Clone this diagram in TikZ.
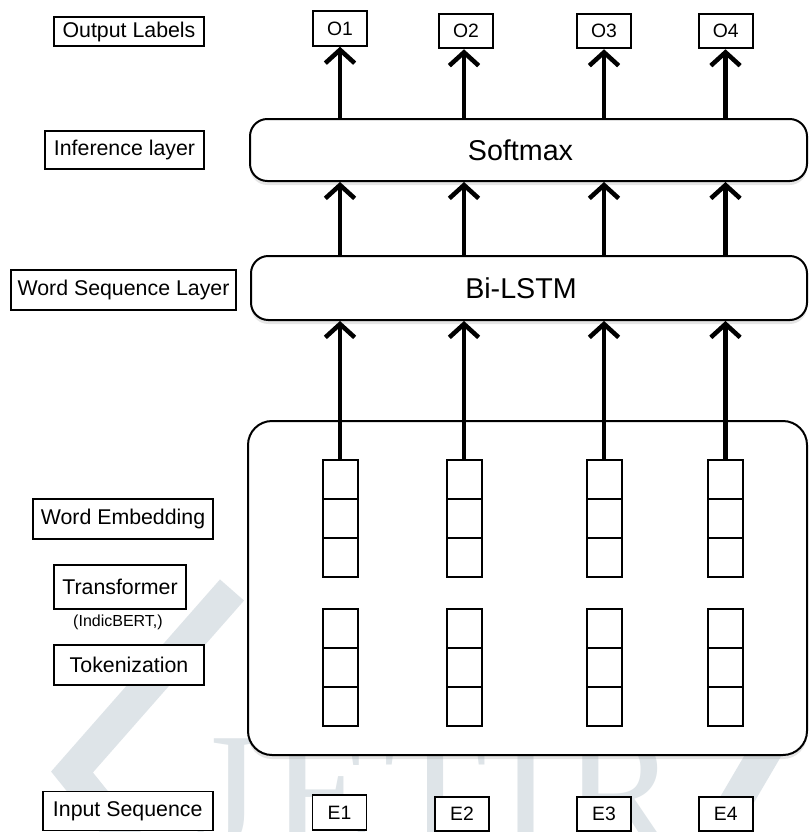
\documentclass[tikz,border=0pt]{standalone}
\usepackage{fontspec}
\setmainfont{Liberation Sans}
\newfontfamily\wmfont{Liberation Serif}
\usetikzlibrary{arrows.meta,shadows}

\definecolor{wmgray}{RGB}{222,228,232}

\tikzset{
  lbl/.style={draw, fill=white, line width=1.4pt, inner sep=0pt, font=\fontsize{16}{19}\selectfont},
  tok/.style={draw, fill=white, line width=1.4pt, inner sep=0pt, minimum width=40.5pt, minimum height=26pt, font=\fontsize{14.5}{17}\selectfont},
  layer/.style={draw, fill=white, line width=1.5pt, rounded corners=13pt, drop shadow={shadow xshift=0pt, shadow yshift=-3pt, opacity=0.2}, font=\fontsize{21.5}{25}\selectfont},
  cell/.style={draw, fill=white, line width=1.5pt, minimum width=26.25pt, minimum height=29.25pt, inner sep=0pt},
  arr/.style={line width=3.4pt, -{Straight Barb[length=10pt, width=22pt]}}
}

\begin{document}
\begin{tikzpicture}[x=0.75pt,y=-0.75pt]
\useasboundingbox (0,0) rectangle (808,832);
\fill[white] (0,0) rectangle (808,832);

% watermark
\draw[wmgray, line width=24pt] (232,590) -- (72,772) -- (175,900);
\draw[wmgray, line width=24pt] (700,600) -- (775,735) -- (690,880);
\node[text=wmgray, font=\wmfont\fontsize{128}{128}\selectfont, anchor=base, inner sep=0pt] (wm) at (436,850) {J\kern7pt E\kern7pt T\kern7pt I\kern7pt R};

% layers
\node[layer, minimum width=417.75pt, minimum height=46.5pt] (sm) at (528.5,150) {Softmax\hspace*{12pt}};
\node[layer, minimum width=417pt, minimum height=48pt] (bl) at (529,288) {Bi-LSTM\hspace*{12pt}};
\node[layer, rounded corners=18pt, minimum width=419.25pt, minimum height=250.5pt] (emb) at (527.5,588) {};

% left labels
\node[lbl, minimum width=112.5pt, minimum height=21.75pt] (outlbl) at (129,31.5) {Output Labels};
\node[lbl, minimum width=119.25pt, minimum height=29pt] (inflbl) at (124.5,150) {Inference layer};
\node[lbl, minimum width=168.75pt, minimum height=30pt] (seqlbl) at (123.5,290) {Word Sequence Layer};
\node[lbl, minimum width=135pt, minimum height=30pt] (emblbl) at (123,519) {Word Embedding};
\node[lbl, minimum width=99pt, minimum height=33pt] (trflbl) at (120,587) {Transformer};
\node[font=\fontsize{12}{14}\selectfont, inner sep=0pt] (indic) at (118,622) {(IndicBERT,)};
\node[lbl, minimum width=112.5pt, minimum height=30pt] (toklbl) at (129,665) {Tokenization};
\node[lbl, minimum width=127.5pt, minimum height=29.25pt] (inlbl) at (127.7,811) {Input Sequence};

% embedding cells
\foreach \i/\x in {1/340,2/464,3/604,4/725.5}{
  \foreach \j in {1,2,3}{
    \node[cell] (we\i\j) at (\x,{440.5+39*\j}) {};
    \node[cell] (tk\i\j) at (\x,{589.5+39*\j}) {};
  }
}

% outputs and inputs
\foreach \i/\x/\y in {1/340/28.5,2/466/31,3/604/31,4/725.7/31}
  \node[tok] (o\i) at (\x,\y) {O\i};
\foreach \i/\x/\y in {1/339.5/812.5,2/462/814,3/604/814,4/725.8/814}
  \node[tok] (e\i) at (\x,\y) {E\i};

% arrows
\foreach \i in {1,...,4}{
  \draw[arr] (we\i1.north) -- (we\i1.north |- bl.south);
  \draw[arr] (we\i1.north |- bl.north) -- (we\i1.north |- sm.south);
  \draw[arr] (we\i1.north |- sm.north) -- (we\i1.north |- o\i.south);
}
\end{tikzpicture}
\end{document}
